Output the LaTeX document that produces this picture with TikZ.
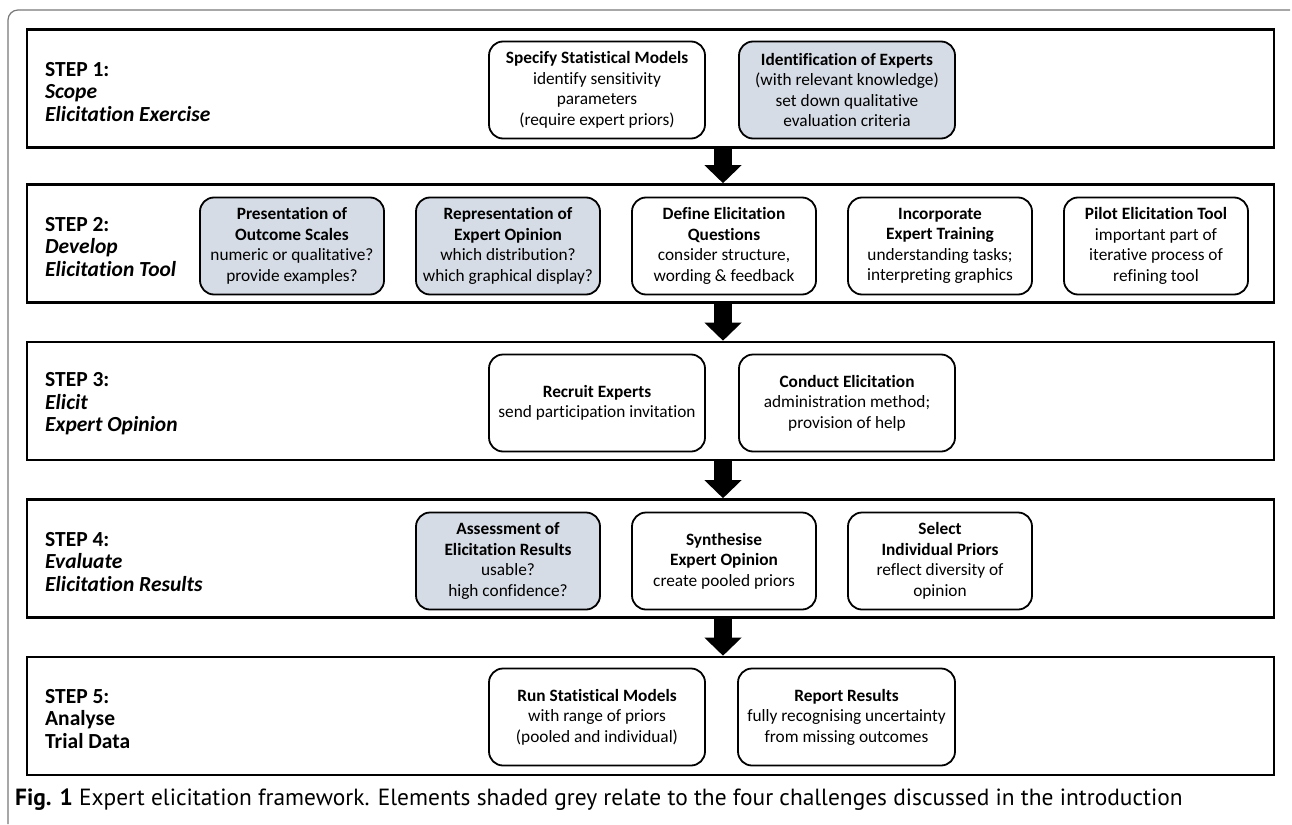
\documentclass[tikz,border=0pt]{standalone}
\usepackage{fontspec}
\setmainfont{Carlito}[Ligatures=NoCommon]
\newfontfamily\capfont{PT Sans}
\usetikzlibrary{arrows.meta}
\definecolor{boxgrey}{RGB}{214,220,229}
\definecolor{framegrey}{RGB}{120,120,120}

\begin{document}
\begin{tikzpicture}[x=1pt,y=-1pt,
   stepframe/.style={draw,line width=2.6pt,minimum width=1247pt,minimum height=118pt,inner sep=0pt},
   steplabel/.style={anchor=west,align=left,inner sep=0pt,font=\fontsize{21.5}{22.5}\selectfont\bfseries},
   task/.style={draw,line width=1.8pt,rounded corners=14pt,align=center,minimum height=97pt,inner sep=2pt,fill=white,font=\fontsize{17.3}{20.5}\selectfont},
   shaded/.style={task,fill=boxgrey},
   bigarrow/.style={line width=18pt,-{Triangle[width=36pt,length=18pt]}}]
   \useasboundingbox (0,0) rectangle (1292,824);
   \draw[framegrey,line width=1.2pt,rounded corners=10pt] (8,824) -- (8,10) -- (1290,10);

   % step frames
   \node[stepframe] (s1) at (650.5,88.5) {};
   \node[stepframe] (s2) at (650.5,243.5) {};
   \node[stepframe] (s3) at (650.5,401) {};
   \node[stepframe] (s4) at (650.5,558.5) {};
   \node[stepframe] (s5) at (650.5,716) {};

   \node[steplabel] (l1) at (45,92) {STEP 1:\\\textit{Scope}\\\textit{Elicitation Exercise}};
   \node[steplabel] (l2) at (45,247) {STEP 2:\\\textit{Develop}\\\textit{Elicitation Tool}};
   \node[steplabel] (l3) at (45,404) {STEP 3:\\\textit{Elicit}\\\textit{Expert Opinion}};
   \node[steplabel] (l4) at (45,562) {STEP 4:\\\textit{Evaluate}\\\textit{Elicitation Results}};
   \node[steplabel] (l5) at (45,719) {STEP 5:\\Analyse\\Trial Data};

   % step 1
   \node[task,minimum width=216pt] (spec) at (597,90)
     {\textbf{Specify Statistical Models}\\identify sensitivity\\parameters\\(require expert priors)};
   \node[shaded,minimum width=216pt] (ident) at (847,90)
     {\textbf{Identification of Experts}\\(with relevant knowledge)\\set down qualitative\\evaluation criteria};

   % step 2
   \node[shaded,minimum width=184pt] (pres) at (292,246)
     {\textbf{Presentation of}\\\textbf{Outcome Scales}\\numeric or qualitative?\\provide examples?};
   \node[shaded,minimum width=184pt] (repr) at (508,246)
     {\textbf{Representation of}\\\textbf{Expert Opinion}\\which distribution?\\which graphical display?};
   \node[task,minimum width=184pt] (defq) at (724,246)
     {\textbf{Define Elicitation}\\\textbf{Questions}\\consider structure,\\wording \& feedback};
   \node[task,minimum width=184pt] (train) at (940,246)
     {\textbf{Incorporate}\\\textbf{Expert Training}\\understanding tasks;\\interpreting graphics};
   \node[task,minimum width=184pt] (pilot) at (1156,246)
     {\textbf{Pilot Elicitation Tool}\\important part of\\iterative process of\\refining tool};

   % step 3
   \node[task,minimum width=216pt] (recruit) at (597,403)
     {\textbf{Recruit Experts}\\send participation invitation};
   \node[task,minimum width=216pt] (conduct) at (847,403)
     {\textbf{Conduct Elicitation}\\administration method;\\provision of help};

   % step 4
   \node[shaded,minimum width=184pt] (assess) at (508,561)
     {\textbf{Assessment of}\\\textbf{Elicitation Results}\\usable?\\high confidence?};
   \node[task,minimum width=184pt] (synth) at (724,561)
     {\textbf{Synthesise}\\\textbf{Expert Opinion}\\create pooled priors};
   \node[task,minimum width=184pt] (select) at (940,561)
     {\textbf{Select}\\\textbf{Individual Priors}\\reflect diversity of\\opinion};

   % step 5
   \node[task,minimum width=216pt] (run) at (597,717)
     {\textbf{Run Statistical Models}\\with range of priors\\(pooled and individual)};
   \node[task,minimum width=217pt] (report) at (846.5,717)
     {\textbf{Report Results}\\fully recognising uncertainty\\from missing outcomes};

   % arrows between steps
   \coordinate (axis) at (723,0);
   \foreach \a/\b in {s1/s2,s2/s3,s3/s4,s4/s5}
     \draw[bigarrow] (\a.south -| axis) -- (\b.north -| axis);

   \node[anchor=base west,inner sep=0pt,font=\capfont\fontsize{23.4}{24}\selectfont] (cap) at (15,805)
     {\textbf{Fig. 1} Expert elicitation framework. Elements shaded grey relate to the four challenges discussed in the introduction};
\end{tikzpicture}
\end{document}
